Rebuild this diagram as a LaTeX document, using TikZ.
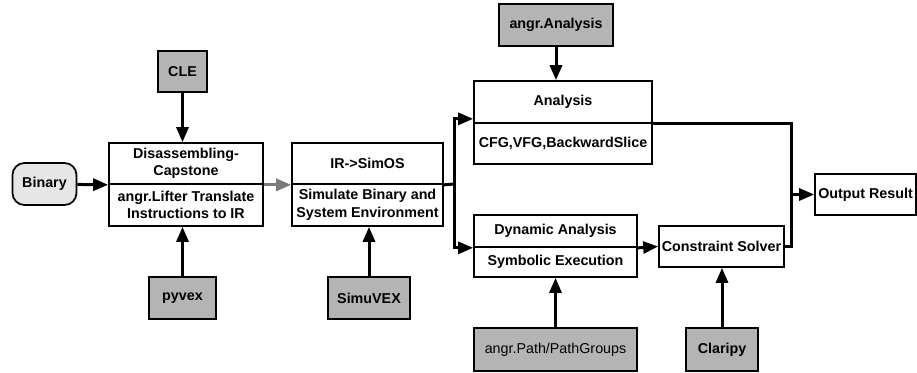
\documentclass[tikz,border=0pt]{standalone}
\usepackage{fontspec}
\setmainfont{Liberation Sans}
\usepackage{tikz}
\usetikzlibrary{shapes, arrows.meta, positioning}
\definecolor{libgray}{HTML}{B4B4B4}
\definecolor{srcgray}{HTML}{E6E6E6}
\definecolor{flowgray}{HTML}{7A7A7A}
\tikzstyle{part} = [rectangle, draw, line width=1.7pt, inner sep=0pt, align=center, font=\fontsize{14.3}{17.5}\selectfont\bfseries]
\tikzstyle{lib} = [part, fill=libgray]
\tikzstyle{src} = [part, fill=srcgray, rounded corners=12pt]
\tikzstyle{line} = [draw, line width=3pt]
\tikzstyle{arrow} = [line, -{Triangle[length=15pt, width=12pt]}]

\begin{document}
\begin{tikzpicture}[x=1pt, y=-1pt]
			\useasboundingbox (0,0) rectangle (917,372);
			\node [src, minimum width=64, minimum height=42] (binary) at (44.5,184) {Binary};
			\node [part, minimum width=154, minimum height=41] (dis) at (186,163.5) {Disassembling-\\Capstone};
			\node [part, minimum width=154, minimum height=42] (lift) at (186,205) {angr.Lifter Translate\\Instructions to IR};
			\node [lib, minimum width=49, minimum height=41] (cle) at (182.5,71.5) {CLE};
			\node [lib, minimum width=67, minimum height=42] (pyvex) at (182.5,298) {pyvex};
			\node [part, minimum width=151, minimum height=41] (simos) at (367.5,163.5) {IR->SimOS};
			\node [part, minimum width=151, minimum height=42] (simenv) at (367.5,205) {Simulate Binary and\\System Environment};
			\node [lib, minimum width=82, minimum height=42] (simuvex) at (369,298) {SimuVEX};
			\node [lib, minimum width=114, minimum height=42] (aa) at (556,25) {angr.Analysis};
			\node [part, minimum width=178, minimum height=42] (analysis) at (563,102) {Analysis};
			\node [part, minimum width=178, minimum height=41] (cfg) at (563,143.5) {CFG,VFG,BackwardSlice};
			\node [part, minimum width=163, minimum height=32] (dyn) at (555.5,231) {Dynamic Analysis};
			\node [part, minimum width=163, minimum height=30] (sym) at (555.5,262) {Symbolic Execution};
			\node [lib, minimum width=163, minimum height=43, font=\fontsize{14.3}{17.5}\selectfont] (path) at (555.5,349.5) {angr.Path/PathGroups};
			\node [part, minimum width=125, minimum height=41] (solver) at (721.5,246.5) {Constraint Solver};
			\node [lib, minimum width=72, minimum height=43] (claripy) at (722,349.5) {Claripy};
			\node [part, minimum width=101, minimum height=41] (out) at (865.5,194.5) {Output Result};
			\coordinate (split) at (454,184);
			\coordinate (join) at (791,194.5);

			\path [arrow] (binary) -- (dis.south west);
			\path [arrow] (cle) -- (cle |- dis.north);
			\path [arrow] (pyvex) -- (pyvex |- lift.south);
			\path [arrow, flowgray] (dis.south east) -- (simos.south west);
			\path [arrow] (simuvex) -- (simuvex |- simenv.south);
			\path [line] (simos.south east) -- (split);
			\path [arrow] (split) |- ([yshift=5pt]analysis.south west);
			\path [arrow] (split) |- (dyn.south west);
			\path [arrow] (aa) -- (aa |- analysis.north);
			\path [arrow] (path) -- (path |- sym.south);
			\path [arrow] (dyn.south east) -- (solver.west);
			\path [arrow] (claripy) -- (claripy |- solver.south);
			\path [line] (analysis.south east) -| (join) |- (solver.east);
			\path [arrow] (join) -- (out.west);
		\end{tikzpicture}
\end{document}
